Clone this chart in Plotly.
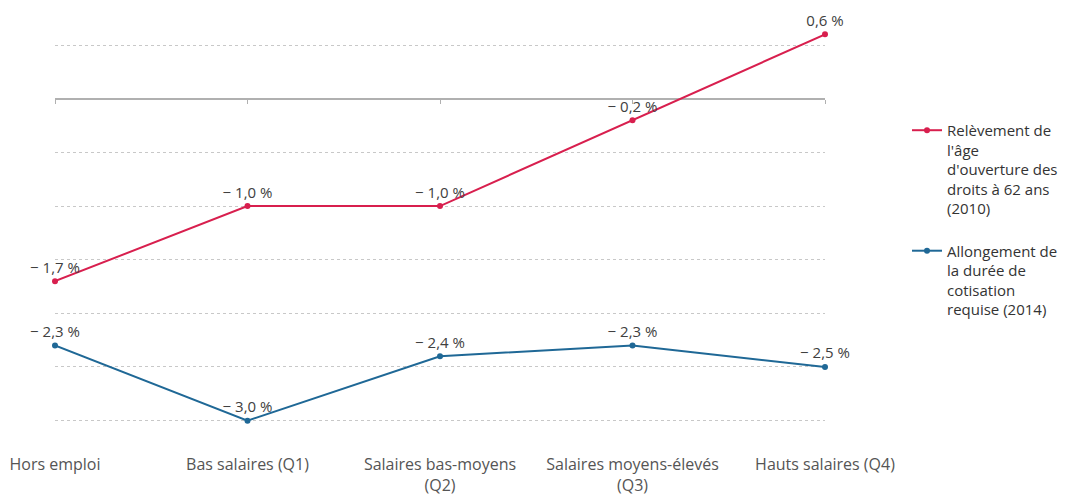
import plotly.graph_objects as go

categories = ["Hors emploi", "Bas salaires (Q1)", "Salaires bas-moyens<br>(Q2)",
              "Salaires moyens-élevés<br>(Q3)", "Hauts salaires (Q4)"]
age_values = [-1.7, -1.0, -1.0, -0.2, 0.6]
duree_values = [-2.3, -3.0, -2.4, -2.3, -2.5]
age_name = "Relèvement de<br>l'âge<br>d'ouverture des<br>droits à 62 ans<br>(2010)"
duree_name = "Allongement de<br>la durée de<br>cotisation<br>requise (2014)"

RED = "#d81f4e"
BLUE = "#1f6896"

def fmt(v):
    s = f"{abs(v):.1f}".replace(".", ",") + " %"
    return ("− " + s) if v < 0 else s

YMIN, YMAX = -3.05, 0.65

fig = go.Figure()
fig.add_trace(go.Scatter(
    x=categories, y=age_values, mode="lines+markers+text", name=age_name,
    line=dict(color=RED, width=2), marker=dict(color=RED, size=6),
    text=[fmt(v) for v in age_values], textposition="top center",
    textfont=dict(family="Open Sans", size=15, color="#404040"),
    cliponaxis=False, legendgroup="a"))
fig.add_trace(go.Scatter(
    x=categories, y=duree_values, mode="lines+markers+text", name=duree_name,
    line=dict(color=BLUE, width=2), marker=dict(color=BLUE, size=6),
    text=[fmt(v) for v in duree_values], textposition="top center",
    textfont=dict(family="Open Sans", size=15, color="#404040"),
    cliponaxis=False, legendgroup="b"))
# invisible helper trace to carry the tick marks on the zero line
fig.add_trace(go.Scatter(x=categories, y=age_values, xaxis="x2", mode="markers",
                         marker=dict(opacity=0), showlegend=False, hoverinfo="skip"))

fig.update_layout(
    width=1075, height=494,
    margin=dict(l=55, r=248, t=29, b=68),
    paper_bgcolor="white", plot_bgcolor="white",
    font=dict(family="Open Sans", size=15, color="#404040"),
    showlegend=True,
    legend=dict(x=1.1065, xanchor="left", y=0.786, yanchor="top", valign="top",
                font=dict(size=15, color="#333333"), tracegroupgap=20,
                bgcolor="rgba(0,0,0,0)"),
    xaxis=dict(type="category", range=[0, 4], showgrid=False, zeroline=False,
               showline=False, ticks="", ticklabelstandoff=27, automargin=False,
               tickfont=dict(size=16, color="#555555")),
    xaxis2=dict(type="category", range=[0, 4], overlaying="x", anchor="free",
                position=(0 - YMIN) / (YMAX - YMIN), side="bottom", automargin=False,
                showgrid=False, zeroline=False, showline=False, showticklabels=False,
                ticks="outside", ticklen=4, tickcolor="#b0b0b0", tickwidth=1),
    yaxis=dict(range=[YMIN, YMAX], dtick=0.5, tick0=0, showticklabels=False,
               showgrid=True, gridcolor="#c8c8c8", griddash="dot", gridwidth=1,
               zeroline=True, zerolinecolor="#b0b0b0", zerolinewidth=2),
)

fig.write_html("out.html")
